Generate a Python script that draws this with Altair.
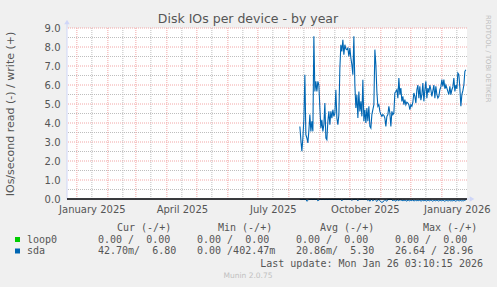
import altair as alt
import pandas as pd
from datetime import datetime, timezone

# ---------------- data ----------------
first_day = "2025-08-12"
sda_write = [
    3.82, 3.10, 2.51, 3.21, 4.20, 6.54, 3.38, 3.21, 2.95, 3.60,
    4.44, 3.56, 4.09, 3.56, 8.56, 5.66, 6.19, 5.66, 6.19, 6.00,
    4.79, 3.73, 4.17, 3.56, 3.91, 5.05, 3.21, 3.12, 4.09, 4.61,
    3.91, 4.61, 4.26, 4.70, 4.35, 4.50, 5.75, 4.26, 3.91, 4.44,
    6.89, 8.12, 7.77, 8.38, 7.59, 8.12, 7.90, 7.86, 7.94, 7.51,
    7.94, 7.42, 7.07, 6.54, 8.56, 6.00, 4.79, 5.49, 4.26, 5.66,
    4.61, 5.14, 4.35, 6.28, 4.09, 4.70, 4.00, 4.79, 4.09, 4.88,
    3.82, 3.73, 4.44, 4.70, 4.96, 7.86, 7.07, 5.66, 4.88, 4.96,
    4.61, 4.44, 4.35, 4.44, 4.40, 4.26, 3.82, 4.35, 4.44, 4.88,
    4.52, 3.82, 4.61, 4.44, 4.52, 5.58, 5.66, 5.75, 5.30, 6.37,
    5.49, 5.84, 5.14, 5.40, 4.96,
    5.23, 4.96, 5.10, 5.05, 4.96, 4.70, 4.96, 4.88, 5.10, 5.58,
    5.40, 5.05, 5.75, 6.00, 5.31, 5.93, 5.20, 5.49, 6.10, 5.14,
    5.75, 6.19, 5.31, 5.84, 5.60, 6.00, 5.75, 5.40, 5.70, 6.00,
    5.31, 5.93, 5.50, 5.31, 5.40, 5.75, 5.90, 6.28, 5.93, 6.28,
    5.80, 6.00, 5.84, 5.66, 5.50, 5.93, 5.49, 5.75, 5.90, 6.37,
    5.66, 6.00, 5.80, 6.63, 6.54, 5.84, 4.88, 5.49, 5.70, 6.00,
    6.72, 6.80,
]
sda_read = [
    -0.02, -0.02, -0.03, -0.02, -0.02, -0.03, -0.02,
    -0.12, -0.08,
    -0.02, -0.03, -0.02, -0.02, -0.03, -0.02, -0.02, -0.03, -0.02,
    -0.10, -0.06,
    -0.02, -0.02, -0.03, -0.02, -0.02, -0.03, -0.02, -0.02, -0.03, -0.02, -0.02,
    -0.03, -0.02, -0.02, -0.03, -0.02, -0.02, -0.03, -0.02, -0.02, -0.03, -0.02,
    -0.10,
    -0.02, -0.03, -0.02, -0.02, -0.03, -0.02, -0.02, -0.03, -0.02,
    -0.08,
    -0.02, -0.03, -0.02, -0.02, -0.03,
    -0.10,
    -0.02, -0.02, -0.03, -0.02, -0.02, -0.03, -0.02, -0.02, -0.03,
    -0.08, -0.03, -0.12, -0.04, -0.02, -0.10, -0.05, -0.02, -0.08, -0.13,
    -0.06, -0.02, -0.09, -0.15, -0.18, -0.16, -0.10, -0.04, -0.08, -0.12,
    -0.02, -0.03, -0.02, -0.02, -0.03,
    -0.10, -0.04, -0.08, -0.12, -0.03, -0.06, -0.10, -0.02, -0.08, -0.05,
    -0.11, -0.04, -0.09, -0.07, -0.12, -0.05, -0.08, -0.10, -0.06, -0.09,
    -0.04, -0.11, -0.08, -0.06, -0.10, -0.07, -0.09, -0.05, -0.12, -0.08,
    -0.06, -0.10, -0.07, -0.09, -0.11, -0.06, -0.08, -0.10, -0.05, -0.09,
    -0.12, -0.07, -0.08, -0.10, -0.06, -0.09, -0.11, -0.07, -0.08, -0.10,
    -0.06, -0.09, -0.12, -0.08, -0.07, -0.10, -0.09, -0.06, -0.11, -0.08,
    -0.10, -0.07, -0.09, -0.12, -0.08, -0.06, -0.10, -0.09, -0.07, -0.11,
    -0.08, -0.10, -0.06, -0.05,
]
month_starts = ["2025-01-01", "2025-02-01", "2025-03-01", "2025-04-01", "2025-05-01",
                "2025-06-01", "2025-07-01", "2025-08-01", "2025-09-01", "2025-10-01",
                "2025-11-01", "2025-12-01", "2026-01-01"]
mid_months = ["2025-01-16", "2025-02-16", "2025-03-16", "2025-04-16", "2025-05-16",
              "2025-06-16", "2025-07-16", "2025-08-16", "2025-09-16", "2025-10-16",
              "2025-11-16", "2025-12-16", "2026-01-16"]
label_dates = ["2025-01-16", "2025-04-16", "2025-07-16", "2025-10-16", "2026-01-16"]
y_major = [1, 2, 3, 4, 5, 6, 7, 8, 9]
y_minor = [0.5, 1.5, 2.5, 3.5, 4.5, 5.5, 6.5, 7.5, 8.5]
y_ticks = [0, 1, 2, 3, 4, 5, 6, 7, 8, 9]

legend_header = ["Cur (-/+)", "Min (-/+)", "Avg (-/+)", "Max (-/+)"]
loop0_vals = ["  0.00 /  0.00 ", "  0.00 /  0.00 ", "  0.00 /  0.00 ", "  0.00 /  0.00 "]
sda_vals = [" 42.70m/  6.80 ", "  0.00 /402.47m", " 20.86m/  5.30 ", " 26.64 / 28.96 "]
last_update = "Last update: Mon Jan 26 03:10:15 2026"

# ---------------- helpers ----------------
def ms(s, H=0, M=0, S=0):
    d = datetime.strptime(s, "%Y-%m-%d").replace(hour=H, minute=M, second=S, tzinfo=timezone.utc)
    return int(d.timestamp() * 1000)

START = ms("2024-12-22", 3, 10, 15)
END = ms("2026-01-26", 3, 10, 15)

L, T = 67, 28          # plot origin in page pixels
W, H = 400, 171

dates = pd.date_range(first_day, periods=len(sda_write), freq="D")
tstr = [d.strftime("%Y-%m-%dT00:00:00Z") for d in dates]
df_w = pd.DataFrame({"t": tstr, "v": sda_write})
df_r = pd.DataFrame({"t": tstr, "v": sda_read})

xscale = alt.Scale(type="utc", domain=[START, END])
yscale = alt.Scale(domain=[0, 9], nice=False, zero=False)

FONT = "DejaVu Sans"
MONO = "DejaVu Sans Mono"
TXT = "#555555"

x_axis = alt.Axis(values=[ms(d) for d in label_dates], format="%B %Y", title=None,
                  grid=False, domain=False, ticks=False, tickSize=0, labelPadding=5,
                  labelFont=FONT, labelFontSize=10, labelColor=TXT,
                  labelOverlap=False, labelFlush=False)
y_axis = alt.Axis(values=y_ticks, format=".1f", title=None, grid=False, domain=False,
                  ticks=False, tickSize=0, labelPadding=7, labelFont=FONT,
                  labelFontSize=10, labelColor=TXT)

def X(field="t"):
    return alt.X(f"{field}:T", scale=xscale, axis=x_axis)

def Y(field="v"):
    return alt.Y(f"{field}:Q", scale=yscale, axis=y_axis)

one = pd.DataFrame({"k": [0]})

def txt(s, x, y, size=10, color=TXT, font=FONT, align="left", baseline="middle", angle=0):
    return alt.Chart(one).mark_text(
        text=s.replace(" ", "\u00a0"), font=font, fontSize=size, color=color,
        align=align, baseline=baseline, angle=angle
    ).encode(x=alt.value(x - L), y=alt.value(y - T))

layers = []

# grid
GRID = "#BEBEBE"
MGRID = "#F2A6A6"
layers.append(alt.Chart(pd.DataFrame({"v": y_minor})).mark_rule(
    color=GRID, strokeWidth=1, strokeDash=[1, 1]).encode(y=Y()))
layers.append(alt.Chart(pd.DataFrame({"t": [d + "T00:00:00Z" for d in mid_months]})).mark_rule(
    color=GRID, strokeWidth=1, strokeDash=[1, 1]).encode(x=X()))
layers.append(alt.Chart(pd.DataFrame({"v": y_major})).mark_rule(
    color=MGRID, strokeWidth=1, strokeDash=[1, 1]).encode(y=Y()))
layers.append(alt.Chart(pd.DataFrame({"t": [d + "T00:00:00Z" for d in month_starts]})).mark_rule(
    color=MGRID, strokeWidth=1, strokeDash=[1, 1]).encode(x=X()))

# axis lines + arrows
AX = "#CFD6F8"
layers.append(alt.Chart(one).mark_rule(color=AX, strokeWidth=1).encode(
    x=alt.value(0), y=alt.value(H), y2=alt.value(-4)))
layers.append(alt.Chart(one).mark_rule(color=AX, strokeWidth=1).encode(
    x=alt.value(0), x2=alt.value(W + 2), y=alt.value(H)))
layers.append(alt.Chart(one).mark_point(shape="triangle-up", filled=True, color=AX,
                                        opacity=1, size=30).encode(
    x=alt.value(0), y=alt.value(-6)))
layers.append(alt.Chart(one).mark_point(shape="triangle-right", filled=True, color=AX,
                                        opacity=1, size=30).encode(
    x=alt.value(W + 5), y=alt.value(H)))

# series
SDA = "#0066B3"
layers.append(alt.Chart(df_r).mark_line(color=SDA, strokeWidth=1).encode(x=X(), y=Y()))
layers.append(alt.Chart(pd.DataFrame({"v": [0]})).mark_rule(
    color="#000000", strokeWidth=1.6).encode(y=Y()))
layers.append(alt.Chart(df_w).mark_line(color=SDA, strokeWidth=1.1).encode(x=X(), y=Y()))

# texts
layers.append(txt("Disk IOs per device - by year", 248, 19, size=12.5, align="center"))
layers.append(txt("IOs/second read (-) / write (+)", 11, 114, size=11, align="center", angle=270))
layers.append(txt("RRDTOOL / TOBI OETIKER", 488, 15, size=6.8, color="#BDBDBD", angle=90))

hdr_x = [117, 218, 320, 423]
col_x = [98, 197, 296, 395]
for s, x in zip(legend_header, hdr_x):
    layers.append(txt(s, x, 228, font=MONO))
layers.append(alt.Chart(one).mark_rect(color="#00CC00").encode(
    x=alt.value(15 - L), x2=alt.value(20 - L), y=alt.value(237 - T), y2=alt.value(242 - T)))
layers.append(alt.Chart(one).mark_rect(color=SDA).encode(
    x=alt.value(15 - L), x2=alt.value(20 - L), y=alt.value(248.5 - T), y2=alt.value(253.5 - T)))
layers.append(txt("loop0", 27, 239.5, font=MONO))
layers.append(txt("sda", 27, 251, font=MONO))
for s, x in zip(loop0_vals, col_x):
    layers.append(txt(s, x, 239.5, font=MONO))
for s, x in zip(sda_vals, col_x):
    layers.append(txt(s, x, 251, font=MONO))
layers.append(txt(last_update, 483, 263.5, font=MONO, align="right"))
layers.append(txt("Munin 2.0.75", 248, 276, size=7.5, color="#C0C0C0", align="center"))

chart = alt.layer(*layers).properties(
    width=W, height=H,
    autosize=alt.AutoSizeParams(type="none"),
    padding={"left": L, "top": T, "right": 497 - L - W, "bottom": 287 - T - H},
    background="#F0F0F0",
).configure_view(fill="white", stroke=None)

chart.save("out.html", embed_options={"renderer": "svg", "actions": False})
